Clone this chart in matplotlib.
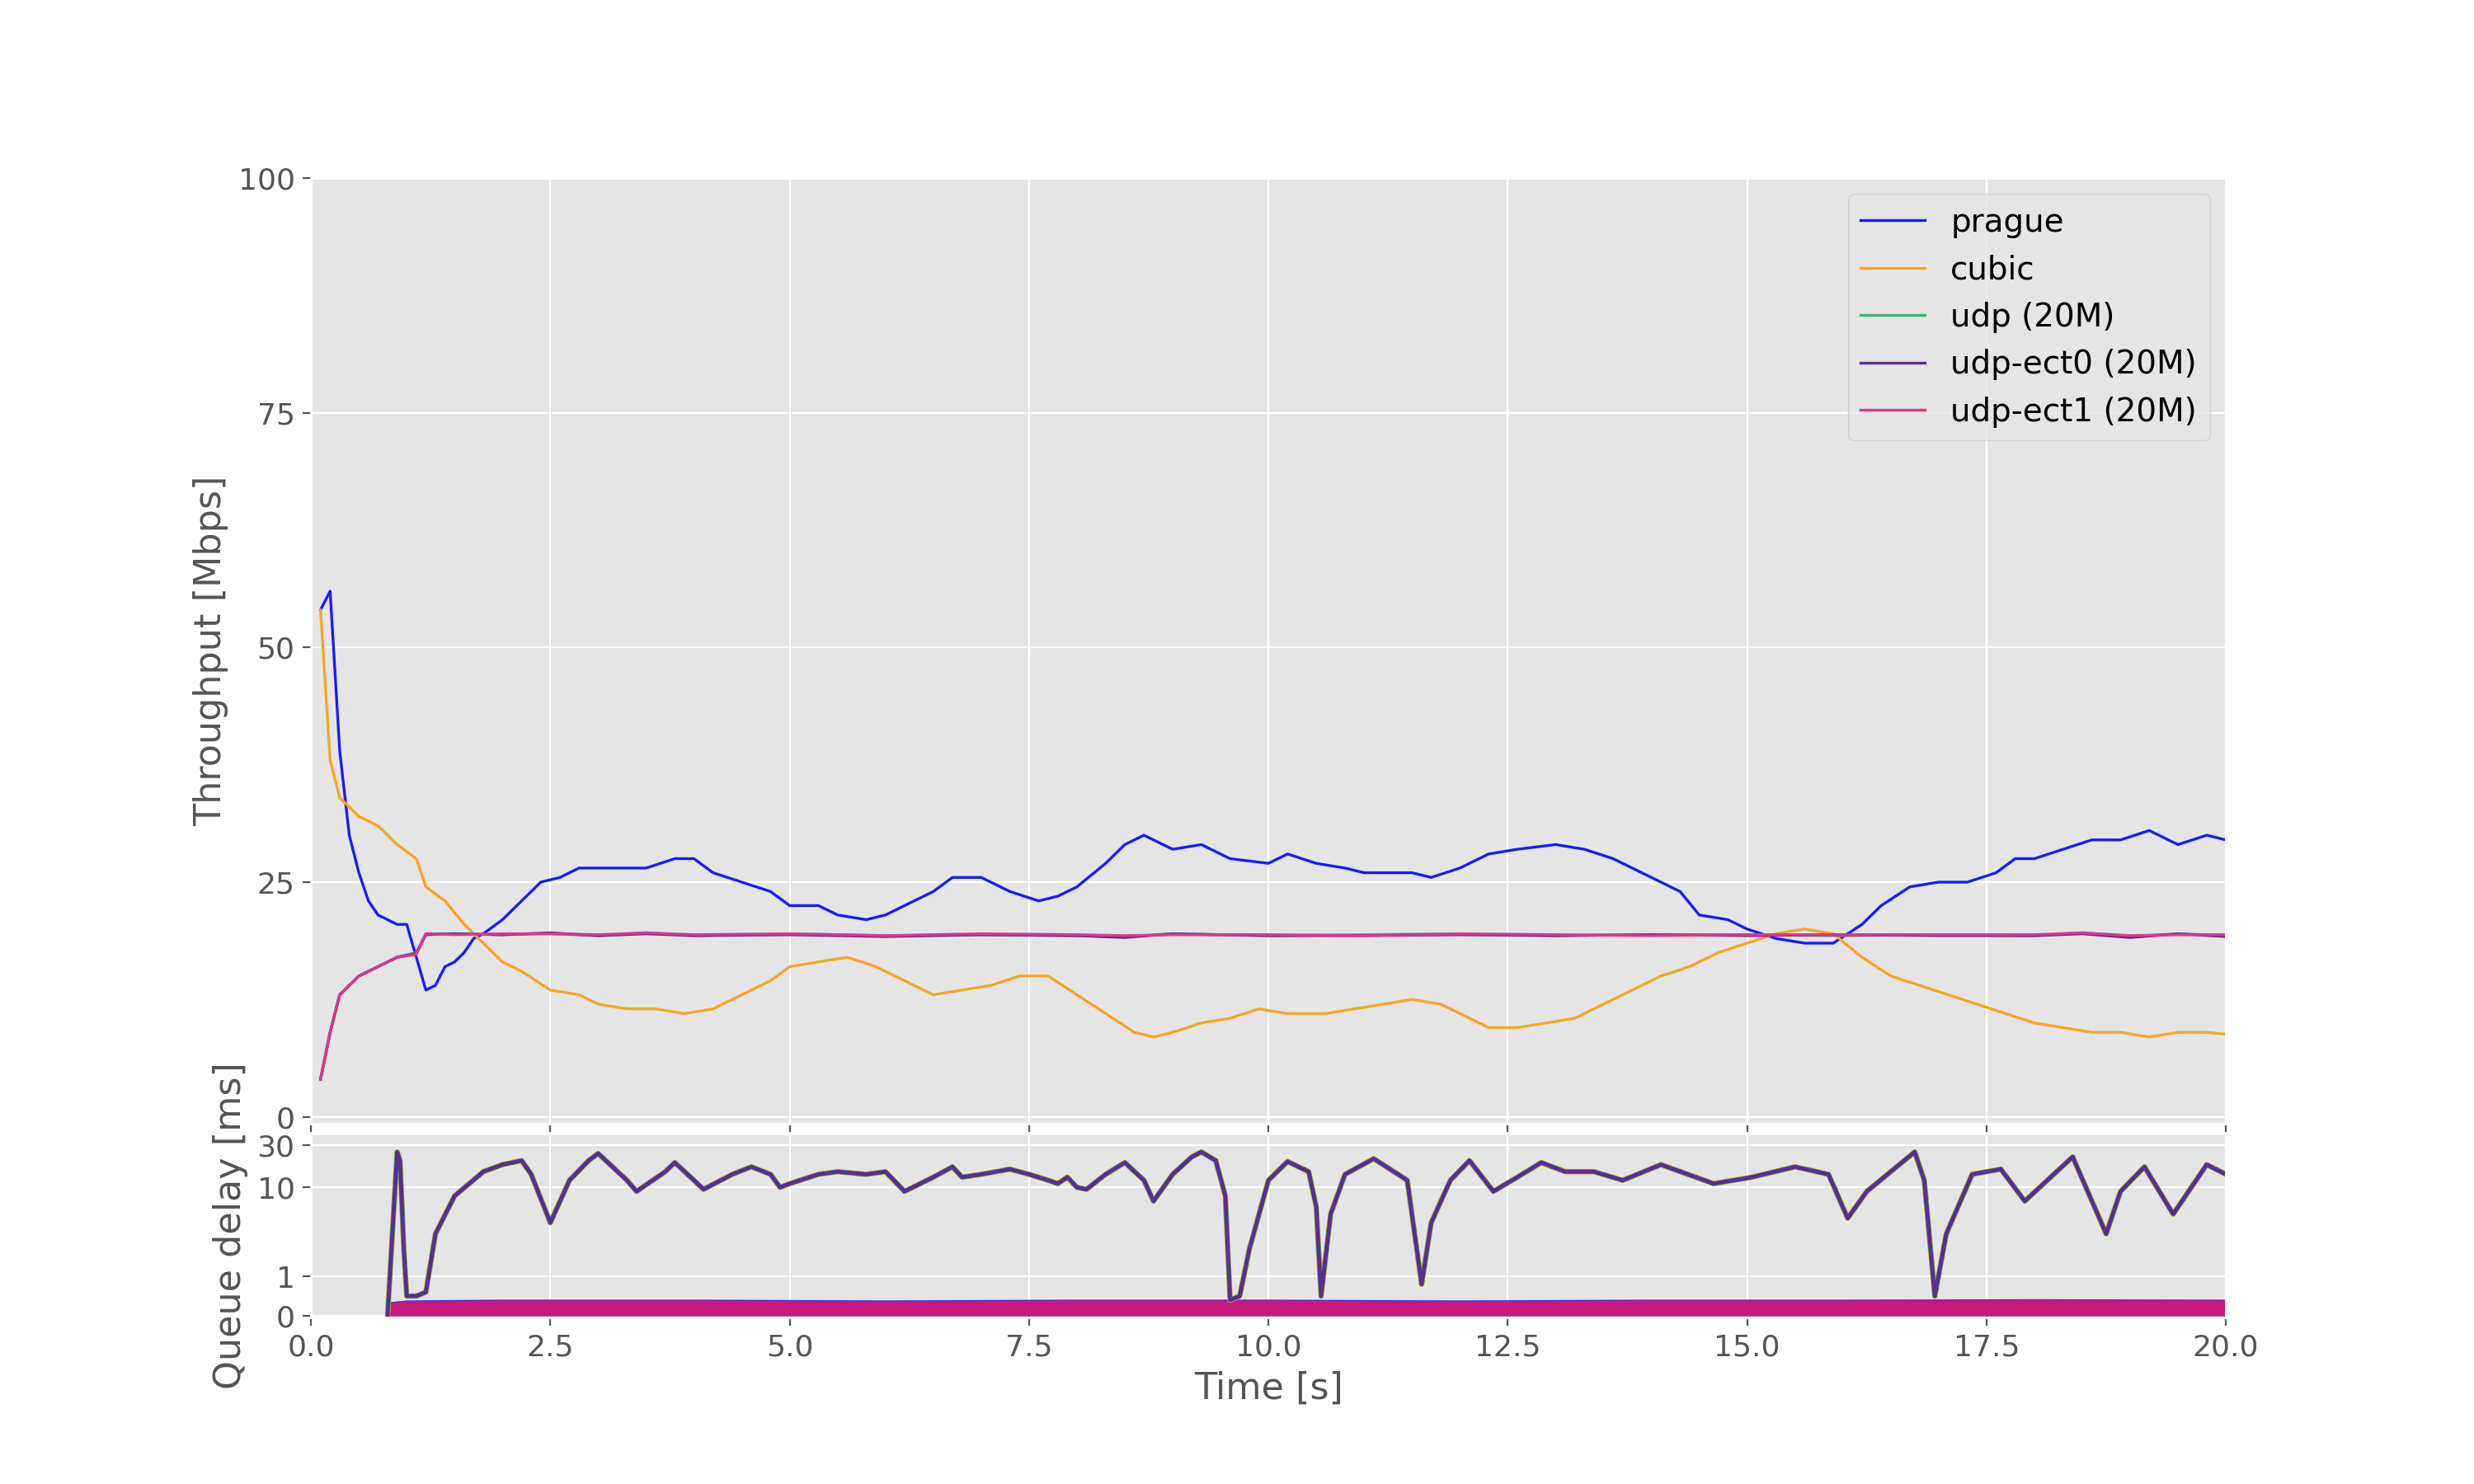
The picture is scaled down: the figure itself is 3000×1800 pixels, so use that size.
import matplotlib.pyplot as plt
import numpy as np

# throughput samples [Mbps]
t_prague = [0.1, 0.2, 0.3, 0.4, 0.5, 0.6, 0.7, 0.8, 0.9, 1.0, 1.1, 1.2, 1.3, 1.4, 1.5, 1.6, 1.7, 1.8,
            2.0, 2.2, 2.4, 2.6, 2.8, 3.0, 3.5, 3.8, 4.0, 4.2, 4.5, 4.8, 5.0, 5.3, 5.5, 5.8, 6.0, 6.3,
            6.5, 6.7, 7.0, 7.3, 7.6, 7.8, 8.0, 8.3, 8.5, 8.7, 9.0, 9.3, 9.6, 10.0, 10.2, 10.5, 10.8,
            11.0, 11.5, 11.7, 12.0, 12.3, 12.6, 13.0, 13.3, 13.6, 14.0, 14.3, 14.5, 14.8, 15.0, 15.3,
            15.6, 15.9, 16.2, 16.4, 16.7, 17.0, 17.3, 17.6, 17.8, 18.0, 18.3, 18.6, 18.9, 19.2, 19.5,
            19.8, 20.0]
prague = [54, 56, 39, 30, 26, 23, 21.5, 21, 20.5, 20.5, 17, 13.5, 14, 16, 16.5, 17.5, 19, 19.5,
          21, 23, 25, 25.5, 26.5, 26.5, 26.5, 27.5, 27.5, 26, 25, 24, 22.5, 22.5, 21.5, 21, 21.5, 23,
          24, 25.5, 25.5, 24, 23, 23.5, 24.5, 27, 29, 30, 28.5, 29, 27.5, 27, 28, 27, 26.5,
          26, 26, 25.5, 26.5, 28, 28.5, 29, 28.5, 27.5, 25.5, 24, 21.5, 21, 20, 19,
          18.5, 18.5, 20.5, 22.5, 24.5, 25, 25, 26, 27.5, 27.5, 28.5, 29.5, 29.5, 30.5, 29,
          30, 29.5]

t_cubic = [0.1, 0.2, 0.3, 0.5, 0.7, 0.9, 1.1, 1.2, 1.4, 1.6, 1.8, 2.0, 2.2, 2.5, 2.8, 3.0, 3.3, 3.6,
           3.9, 4.2, 4.5, 4.8, 5.0, 5.3, 5.6, 5.9, 6.2, 6.5, 6.8, 7.1, 7.4, 7.7, 8.0, 8.3, 8.6, 8.8,
           9.0, 9.3, 9.6, 9.9, 10.2, 10.6, 10.9, 11.2, 11.5, 11.8, 12.0, 12.3, 12.6, 12.9, 13.2, 13.5,
           13.8, 14.1, 14.4, 14.7, 15.0, 15.3, 15.6, 15.9, 16.2, 16.5, 16.8, 17.1, 17.4, 17.7, 18.0,
           18.3, 18.6, 18.9, 19.2, 19.5, 19.8, 20.0]
cubic = [54, 38, 34, 32, 31, 29, 27.5, 24.5, 23, 20.5, 18.5, 16.5, 15.5, 13.5, 13, 12, 11.5, 11.5,
         11, 11.5, 13, 14.5, 16, 16.5, 17, 16, 14.5, 13, 13.5, 14, 15, 15, 13, 11, 9, 8.5,
         9, 10, 10.5, 11.5, 11, 11, 11.5, 12, 12.5, 12, 11, 9.5, 9.5, 10, 10.5, 12,
         13.5, 15, 16, 17.5, 18.5, 19.5, 20, 19.5, 17, 15, 14, 13, 12, 11, 10,
         9.5, 9, 9, 8.5, 9, 9, 8.8]

t_udp = [0.1, 0.2, 0.3, 0.5, 0.7, 0.9, 1.1, 1.2, 1.5, 2.0, 2.5, 3.0, 3.5, 4.0, 5.0, 6.0, 7.0, 8.0,
         8.5, 9.0, 10.0, 11.0, 12.0, 13.0, 14.0, 15.0, 16.0, 17.0, 18.0, 18.5, 19.0, 19.5, 20.0]
udp = [4, 9, 13, 15, 16, 17, 17.5, 19.5, 19.5, 19.4, 19.5, 19.3, 19.6, 19.3, 19.5, 19.3, 19.4, 19.3,
       19.2, 19.5, 19.3, 19.4, 19.5, 19.3, 19.4, 19.4, 19.3, 19.4, 19.3, 19.6, 19.2, 19.5, 19.3]
udp_ect0 = [4, 9, 13, 15, 16, 17, 17.4, 19.4, 19.5, 19.4, 19.6, 19.3, 19.5, 19.3, 19.4, 19.2, 19.4, 19.3,
            19.1, 19.5, 19.3, 19.3, 19.4, 19.3, 19.4, 19.3, 19.4, 19.3, 19.3, 19.5, 19.1, 19.5, 19.2]
udp_ect1 = [4, 9, 13, 15, 16, 17, 17.3, 19.5, 19.4, 19.5, 19.5, 19.4, 19.6, 19.4, 19.5, 19.3, 19.5, 19.4,
            19.3, 19.4, 19.4, 19.3, 19.5, 19.4, 19.3, 19.4, 19.4, 19.4, 19.4, 19.6, 19.3, 19.4, 19.4]

# queue delay of the classic queue [ms]
t_qc = [0.8, 0.85, 0.9, 0.93, 0.97, 1.0, 1.1, 1.2, 1.3, 1.5, 1.8, 2.0, 2.2, 2.3, 2.5, 2.7, 2.9, 3.0,
        3.3, 3.4, 3.7, 3.8, 4.0, 4.1, 4.4, 4.6, 4.8, 4.9, 5.0, 5.3, 5.5, 5.8, 6.0, 6.2, 6.5, 6.7,
        6.8, 7.0, 7.3, 7.5, 7.7, 7.8, 7.9, 8.0, 8.1, 8.3, 8.5, 8.7, 8.8, 9.0, 9.2, 9.3, 9.45,
        9.55, 9.6, 9.7, 9.8, 10.0, 10.2, 10.42, 10.5, 10.55, 10.65, 10.8, 11.1, 11.45, 11.6, 11.7,
        11.9, 12.1, 12.35, 12.6, 12.85, 13.1, 13.4, 13.7, 14.1, 14.65, 15.05, 15.5, 15.85, 16.05,
        16.25, 16.75, 16.85, 16.96, 17.08, 17.35, 17.65, 17.9, 18.4, 18.75, 18.9, 19.15, 19.45,
        19.8, 20.0]
q_classic = [0.0, 3, 25, 20, 2, 0.5, 0.5, 0.6, 3, 8, 15, 18, 20, 14, 4, 12, 20, 24,
             12, 9, 15, 19, 12, 9.5, 14, 17, 14, 10, 11, 14, 15, 14, 15, 9, 13, 17,
             13, 14, 16, 14, 12, 11, 13, 10, 9.5, 14, 19, 12, 7, 14, 22, 25, 20,
             8, 0.4, 0.5, 2, 12, 19.5, 15, 6, 0.5, 5, 14, 21, 12, 0.8, 4,
             12, 20, 9, 13, 19, 15, 15, 12, 18, 11, 13, 17, 14, 4.5,
             9, 25, 12, 0.5, 3, 14, 16, 7, 22, 3, 9, 17, 5,
             18, 14]

# queue delay of the L4S queue [ms], upper edge of the band
t_ql = [0.8, 1.0, 2.0, 4.0, 6.0, 8.0, 10.0, 12.0, 14.0, 16.0, 18.0, 20.0]
q_l4s = [0.35, 0.4, 0.42, 0.42, 0.4, 0.42, 0.42, 0.4, 0.42, 0.42, 0.43, 0.42]

plt.style.use("ggplot")
fig = plt.figure(figsize=(15, 9), dpi=200)
ax1 = fig.add_axes([0.1257, 0.243, 0.774, 0.637])
ax2 = fig.add_axes([0.1257, 0.112, 0.774, 0.124], sharex=ax1)

ax1.plot(t_prague, prague, color="#1a1aff", lw=1.2, label="prague")
ax1.plot(t_cubic, cubic, color="#f5a623", lw=1.2, label="cubic")
ax1.plot(t_udp, udp, color="#3cb371", lw=1.2, label="udp (20M)")
ax1.plot(t_udp, udp_ect0, color="#5b2c8f", lw=1.2, label="udp-ect0 (20M)")
ax1.plot(t_udp, udp_ect1, color="#e0358a", lw=1.2, label="udp-ect1 (20M)")
ax1.set_ylim(-0.7, 100)
ax1.set_yticks([0, 25, 50, 75, 100])
ax1.set_ylabel("Throughput [Mbps]", fontsize=16)
ax1.tick_params(labelsize=13, labelbottom=False)
ax1.legend(loc="upper right", fontsize=14, facecolor="#e5e5e5", edgecolor="#cccccc")

ax2.fill_between(t_ql, 0, q_l4s, color="#1a1aff", alpha=0.9, lw=0)
ax2.fill_between(t_ql, 0, [v * 0.95 for v in q_l4s], color="#c8187c", lw=0)
ax2.plot(t_qc, q_classic, color="#f5a623", lw=2.4)
ax2.plot(t_qc, q_classic, color="#3cb371", lw=2.1)
ax2.plot(t_qc, q_classic, color="#5b2c8f", lw=1.7)
ax2.set_yscale("symlog", linthresh=1, linscale=0.4)
ax2.set_ylim(-0.05, 40)
ax2.set_yticks([0, 1, 10, 30])
ax2.set_yticklabels(["0", "1", "10", "30"])
ax2.minorticks_off()
ax2.set_xlim(0, 20)
ax2.set_xticks([0, 2.5, 5, 7.5, 10, 12.5, 15, 17.5, 20])
ax2.set_xlabel("Time [s]", fontsize=16)
ax2.set_ylabel("Queue delay [ms]", fontsize=16)
ax2.tick_params(labelsize=13)

fig.savefig("out.png", dpi=200)
